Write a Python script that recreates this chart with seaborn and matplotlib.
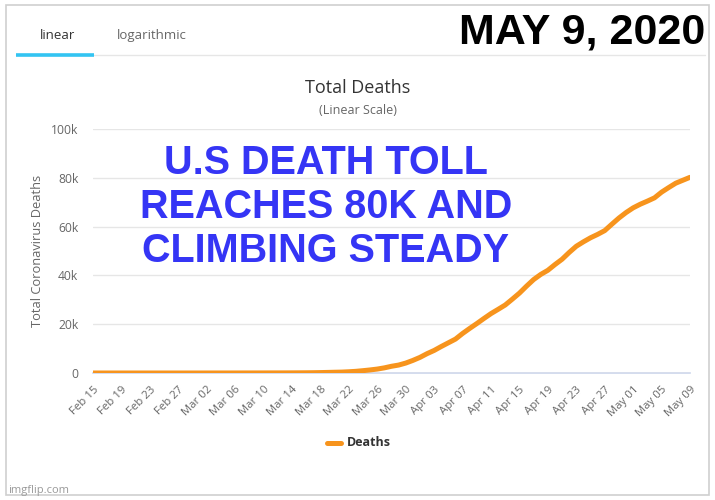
import numpy as np
import pandas as pd
import matplotlib
matplotlib.use("Agg")
import matplotlib.pyplot as plt
import seaborn as sns
from matplotlib.patches import Rectangle
from matplotlib.lines import Line2D

# ---- data ----
start_date = "2020-02-15"
end_date = "2020-05-09"
deaths = [0]*14 + [
    1,                                                   # Feb 29
    1, 6, 9, 11, 12, 15, 19, 22, 26, 30, 38, 41, 48, 58, 73, 95,
    121, 171, 239, 309, 374, 509, 689, 957, 1260, 1614, 2110, 2754,
    3251, 4066, 5151,                                    # March
    6394, 7921, 9246, 10855, 12375, 13894, 16191, 18270, 20255, 22333,
    24342, 26086, 27870, 30262, 32734, 35600, 38300, 40400, 42094, 44444,
    46622, 49400, 51949, 53755, 55413, 56803, 58355, 60967, 63515, 65753,  # April
    67682, 69168, 70436, 71784, 74114, 76000, 77800, 79000, 80200,         # May
]
series_name = "Deaths"
title = "Total Deaths"
subtitle = "(Linear Scale)"
y_label = "Total Coronavirus Deaths"
y_ticks = [0, 20000, 40000, 60000, 80000, 100000]
y_tick_labels = ["0", "20k", "40k", "60k", "80k", "100k"]
tick_step = 4
headline = "MAY 9, 2020"
caption = "U.S DEATH TOLL\nREACHES 80K AND\nCLIMBING STEADY"
tabs = ["linear", "logarithmic"]
watermark = "imgflip.com"

dates = pd.date_range(start_date, end_date, freq="D")
df = pd.DataFrame({"day": np.arange(len(dates)), "deaths": deaths})

sns.set_theme(style="white")
plt.rcParams["font.family"] = ["Open Sans", "DejaVu Sans"]

W, H = 715, 500
fig = plt.figure(figsize=(W/100, H/100), dpi=100)
fig.patch.set_facecolor("white")

def fx(px): return px / W
def fy(py): return 1 - py / H

# frame
fig.add_artist(Rectangle((fx(6), fy(495)), fx(709) - fx(6), fy(5) - fy(495),
                         transform=fig.transFigure, fill=False,
                         edgecolor="#cfcfcf", linewidth=1.2))

# tabs
fig.text(fx(58), fy(35), tabs[0], ha="center", va="center", fontsize=9.5, color="#333333")
fig.text(fx(152), fy(35), tabs[1], ha="center", va="center", fontsize=9.5, color="#666666")
fig.add_artist(Line2D([fx(16), fx(705)], [fy(55), fy(55)], transform=fig.transFigure,
                      color="#e6e6e6", linewidth=1))
fig.add_artist(Line2D([fx(16), fx(94)], [fy(55), fy(55)], transform=fig.transFigure,
                      color="#33c4f2", linewidth=2.6, solid_capstyle="butt"))

# headline
fig.text(fx(705), fy(32), headline, ha="right", va="center", fontsize=31,
         fontweight="bold", color="black", family="Liberation Sans")

# axes
left, right, top, bottom = 93, 690, 129, 373
ax = fig.add_axes([fx(left), fy(bottom), fx(right) - fx(left), fy(top) - fy(bottom)])
sns.lineplot(data=df, x="day", y="deaths", ax=ax, color="#f7941d", linewidth=3.6,
             legend=False, solid_capstyle="round")
ax.set_xlim(0, len(dates) - 1)
ax.set_ylim(0, 100000)
ax.set_yticks(y_ticks)
ax.set_yticklabels(y_tick_labels)
xt = np.arange(0, len(dates), tick_step)
ax.set_xticks(xt)
ax.set_xticklabels([dates[i].strftime("%b %d") for i in xt], rotation=45,
                   ha="right", va="top", rotation_mode="anchor")
ax.tick_params(axis="x", labelsize=8.2, colors="#666666", length=0, pad=8)
ax.tick_params(axis="y", labelsize=8.7, colors="#666666", length=0, pad=10.5)
for lab in ax.get_yticklabels():
    lab.set_color("#666666")
ax.grid(axis="y", color="#e6e6e6", linewidth=1)
ax.set_axisbelow(True)
for s in ["left", "right", "top"]:
    ax.spines[s].set_visible(False)
ax.spines["bottom"].set_color("#ccd6eb")
ax.spines["bottom"].set_linewidth(1.2)
ax.spines["bottom"].set_zorder(0.5)
ax.set_xlabel("")
ax.set_ylabel("")
ax.set_facecolor("white")

fig.text(fx(38), fy(251), y_label, rotation=90, ha="center", va="center",
         fontsize=9.3, color="#666666")

# titles
fig.text(fx(358), fy(88), title, ha="center", va="center", fontsize=13, color="#333333")
fig.text(fx(358), fy(110), subtitle, ha="center", va="center", fontsize=9, color="#666666")

# caption
fig.text(fx(326), fy(207), caption, ha="center", va="center", fontsize=28.5,
         fontweight="bold", color="#3535f5", family="Liberation Sans", linespacing=1.2)

# legend
fig.add_artist(Line2D([fx(327), fx(341)], [fy(443), fy(443)], transform=fig.transFigure,
                      color="#f7941d", linewidth=3.6, solid_capstyle="round"))
fig.text(fx(347), fy(443), series_name, ha="left", va="center", fontsize=9,
         fontweight="bold", color="#333333")

fig.text(fx(8), fy(490), watermark, ha="left", va="center", fontsize=8, color="#999999")

fig.savefig("out.png", dpi=100, facecolor="white")
